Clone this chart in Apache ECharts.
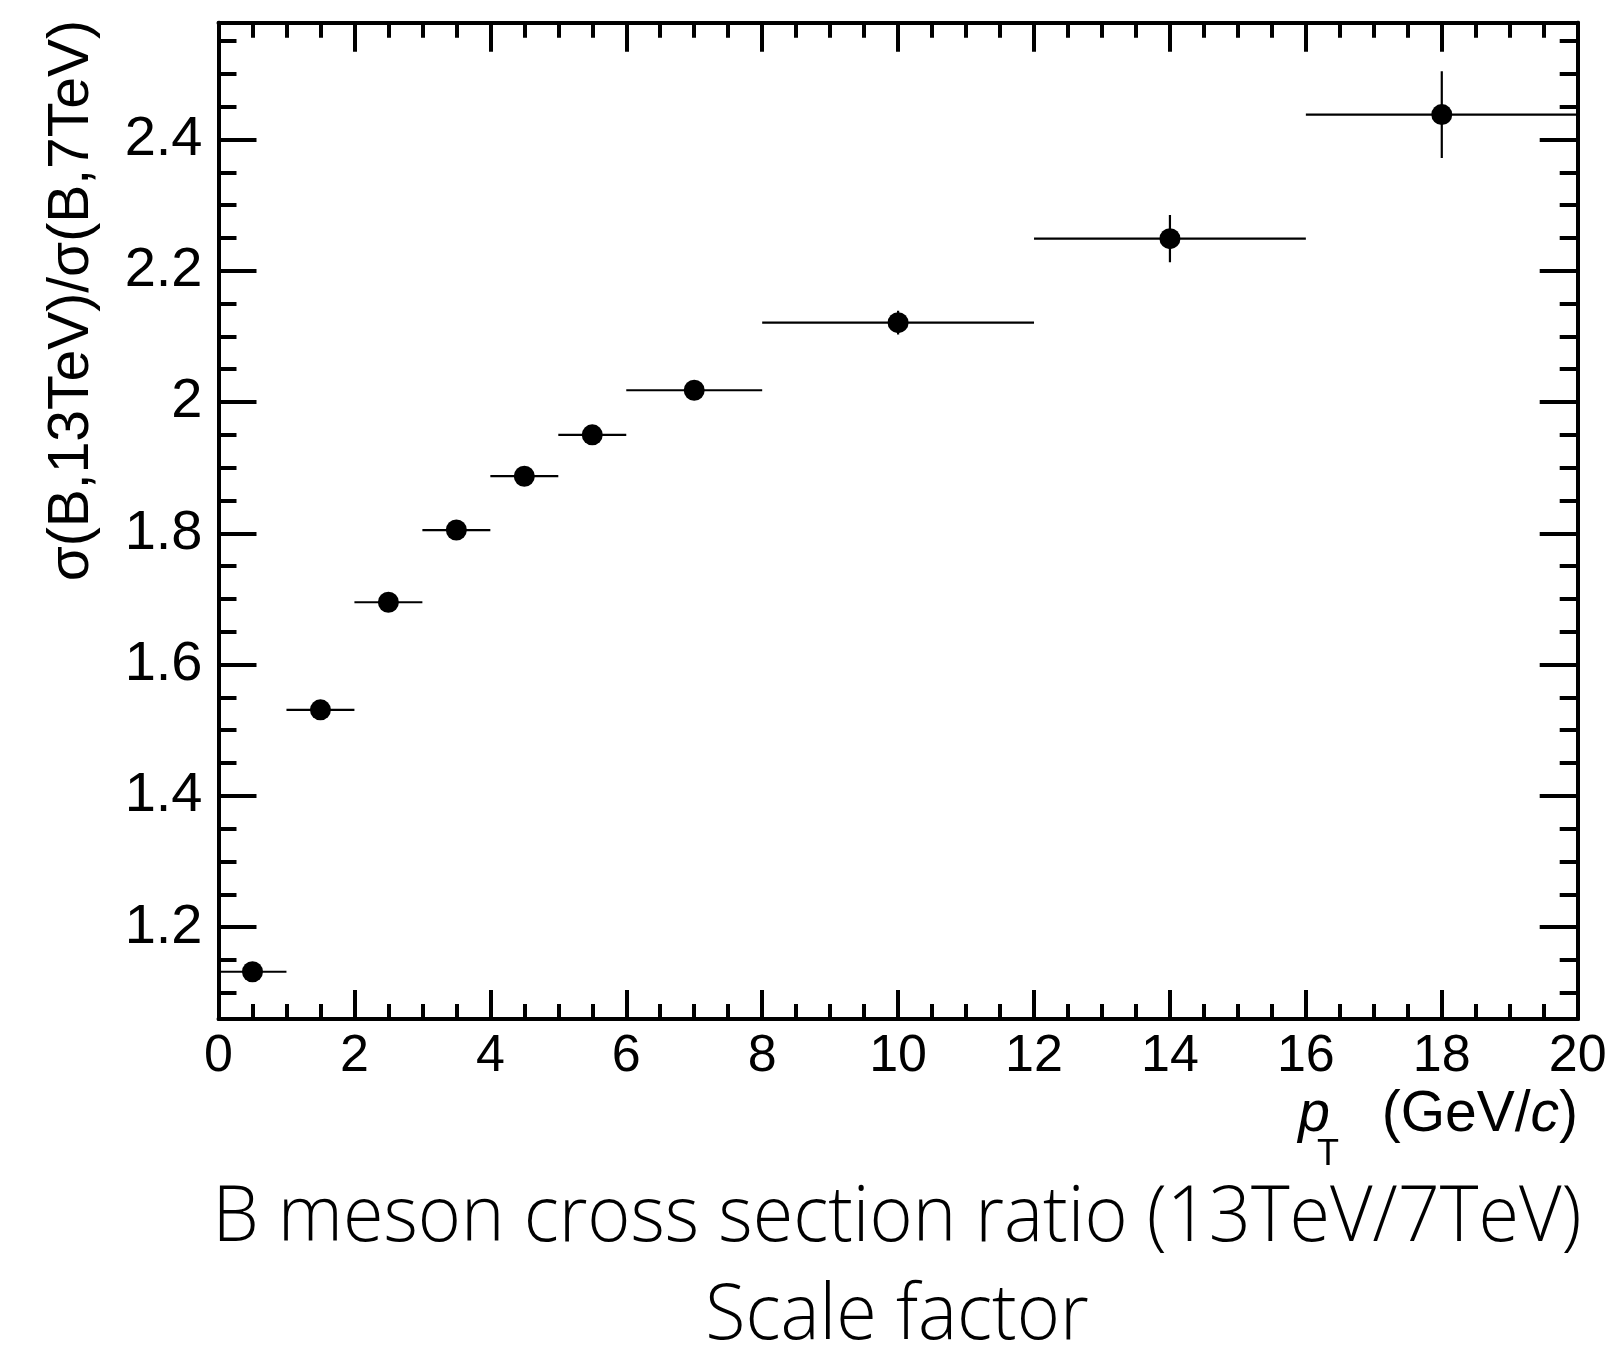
<!DOCTYPE html>
<html>
<head>
<meta charset="utf-8">
<script src="https://cdn.jsdelivr.net/npm/echarts@6/dist/echarts.min.js"></script>
<style>
html,body{margin:0;padding:0;background:#fff;}
#chart{width:1610px;height:1349px;}
</style>
</head>
<body>
<div id="chart"></div>
<script>
// ---- data ----
const binCenters = [0.5, 1.5, 2.5, 3.5, 4.5, 5.5, 7, 10, 14, 18];
const binLow     = [0, 1, 2, 3, 4, 5, 6, 8, 12, 16];
const binHigh    = [1, 2, 3, 4, 5, 6, 8, 12, 16, 20];
const ratio      = [1.132, 1.531, 1.695, 1.805, 1.887, 1.950, 2.018, 2.121, 2.249, 2.438];
const ratioErr   = [0.005, 0.005, 0.005, 0.005, 0.006, 0.007, 0.012, 0.018, 0.036, 0.066];
const yMajorTicks = [1.2, 1.4, 1.6, 1.8, 2.0, 2.2, 2.4];
const yMinorTicks = [1.1, 1.15, 1.25, 1.3, 1.35, 1.45, 1.5, 1.55, 1.65, 1.7, 1.75, 1.85, 1.9, 1.95,
                     2.05, 2.1, 2.15, 2.25, 2.3, 2.35, 2.45, 2.5, 2.55];
const yMin = 1.06, yMax = 2.578;
const xMin = 0, xMax = 20, xStep = 2;
const titleLine1 = 'B meson cross section ratio (13TeV/7TeV)';
const titleLine2 = 'Scale factor';
const yTitle = 'σ(B,13TeV)/σ(B,7TeV)';

// ---- helpers ----
function measure(text, font) {
  const c = document.createElement('canvas').getContext('2d');
  c.font = font;
  return c.measureText(text).width;
}
const titleFont = '300 78px "Open Sans"';
const titleScale = 1369 / measure(titleLine1, titleFont);

const LAB = '"Liberation Sans", Arial, Helvetica, sans-serif';
const BLACK = '#000';

function xAxisCfg(pos, showLabel) {
  return {
    type: 'value', position: pos, min: xMin, max: xMax, interval: xStep,
    axisLine: { show: true, onZero: false, lineStyle: { color: BLACK, width: 4 } },
    axisTick: { show: true, inside: true, length: 29, lineStyle: { color: BLACK, width: 4 } },
    minorTick: { show: true, splitNumber: 4, length: 15, lineStyle: { color: BLACK, width: 4 } },
    axisLabel: { show: showLabel, color: BLACK, fontSize: 52, fontFamily: LAB, margin: 12 },
    splitLine: { show: false }, minorSplitLine: { show: false }
  };
}
function yAxisCfg(pos, ticks, len, showLabel) {
  return {
    type: 'value', position: pos, min: yMin, max: yMax,
    axisLine: { show: true, onZero: false, lineStyle: { color: BLACK, width: 4 } },
    axisTick: { show: true, inside: true, length: len, customValues: ticks, lineStyle: { color: BLACK, width: 4 } },
    axisLabel: { show: showLabel, customValues: ticks, color: BLACK, fontSize: 56, fontFamily: LAB, margin: 16 },
    splitLine: { show: false }
  };
}

const points = binCenters.map((x, i) => [x, ratio[i], binLow[i], binHigh[i], ratioErr[i]]);

const chart = echarts.init(document.getElementById('chart'), null, { renderer: 'canvas' });
chart.setOption({
  animation: false,
  backgroundColor: '#fff',
  grid: { left: 218.5, right: 32.3, top: 22.7, bottom: 330, containLabel: false },
  xAxis: [xAxisCfg('bottom', true), xAxisCfg('top', false)],
  yAxis: [
    yAxisCfg('left', yMajorTicks, 38, true),
    yAxisCfg('left', yMinorTicks, 18, false),
    yAxisCfg('right', yMajorTicks, 38, false),
    yAxisCfg('right', yMinorTicks, 18, false)
  ],
  series: [
    {
      type: 'custom', xAxisIndex: 0, yAxisIndex: 0, data: points, clip: true,
      renderItem: function (params, api) {
        const x = api.value(0), y = api.value(1), xl = api.value(2), xh = api.value(3), e = api.value(4);
        const a = api.coord([xl, y]), b = api.coord([xh, y]);
        const c = api.coord([x, y - e]), d = api.coord([x, y + e]);
        return {
          type: 'group',
          children: [
            { type: 'line', shape: { x1: a[0], y1: a[1], x2: b[0], y2: b[1] }, style: { stroke: BLACK, lineWidth: 2.2 } },
            { type: 'line', shape: { x1: c[0], y1: c[1], x2: d[0], y2: d[1] }, style: { stroke: BLACK, lineWidth: 2.2 } }
          ]
        };
      }
    },
    {
      type: 'scatter', xAxisIndex: 0, yAxisIndex: 0,
      data: binCenters.map((x, i) => [x, ratio[i]]),
      symbol: 'circle', symbolSize: 21,
      itemStyle: { color: BLACK, opacity: 1 }
    }
  ],
  graphic: [
    {
      type: 'text', x: 72, y: 20, rotation: Math.PI / 2,
      style: { text: yTitle, fontSize: 57, fontFamily: LAB, fill: BLACK,
               align: 'right', textAlign: 'right', verticalAlign: 'middle', textVerticalAlign: 'middle' }
    },
    {
      type: 'text', x: 1578, y: 1115,
      style: { text: '(GeV/{c|c})', fontSize: 57, fontFamily: LAB, fill: BLACK,
               rich: { c: { fontStyle: 'italic', fontSize: 57, fontFamily: LAB, fill: BLACK } },
               align: 'right', textAlign: 'right', verticalAlign: 'middle', textVerticalAlign: 'middle' }
    },
    {
      type: 'text', x: 1330, y: 1115,
      style: { text: 'p', fontSize: 57, fontStyle: 'italic', fontFamily: LAB, fill: BLACK,
               align: 'right', textAlign: 'right', verticalAlign: 'middle', textVerticalAlign: 'middle' }
    },
    {
      type: 'text', x: 1328, y: 1155,
      style: { text: 'T', fontSize: 36, fontFamily: LAB, fill: BLACK,
               align: 'center', textAlign: 'center', verticalAlign: 'middle', textVerticalAlign: 'middle' }
    },
    {
      type: 'text', x: 897, y: 1219, scaleX: titleScale,
      style: { text: titleLine1, fontSize: 78, fontWeight: 300, fontFamily: '"Open Sans"', fill: BLACK,
               align: 'center', textAlign: 'center', verticalAlign: 'middle', textVerticalAlign: 'middle' }
    },
    {
      type: 'text', x: 897, y: 1317, scaleX: titleScale,
      style: { text: titleLine2, fontSize: 78, fontWeight: 300, fontFamily: '"Open Sans"', fill: BLACK,
               align: 'center', textAlign: 'center', verticalAlign: 'middle', textVerticalAlign: 'middle' }
    }
  ]
});
</script>
</body>
</html>
